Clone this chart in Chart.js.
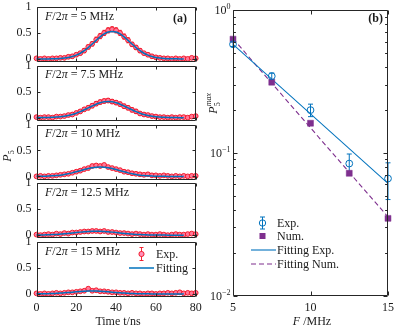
<!DOCTYPE html>
<html><head><meta charset="utf-8">
<script src="https://cdn.jsdelivr.net/npm/chart.js@4.4.1/dist/chart.umd.min.js"></script>
<style>
html,body{margin:0;padding:0;background:#fff;}
#wrap{position:relative;width:399px;height:327px;overflow:hidden;background:#fff;}
canvas{position:absolute;left:0;top:0;}
</style></head><body><div id="wrap">
<canvas id="a0" width="399" height="327"></canvas>
<canvas id="a1" width="399" height="327"></canvas>
<canvas id="a2" width="399" height="327"></canvas>
<canvas id="a3" width="399" height="327"></canvas>
<canvas id="a4" width="399" height="327"></canvas>
<canvas id="b0" width="399" height="327"></canvas>
</div>
<script>
// ---------- data: panel (a) ----------
const timeExp = [0,2,4,6,8,10,12,14,16,18,20,22,24,26,28,30,32,34,36,38,40,42,44,46,48,50,52,54,56,58,60,62,64,66,68,70,72,74,76,78,80];
const timeFit = [0,2,4,6,8,10,12,14,16,18,20,22,24,26,28,30,32,34,36,38,40,42,44,46,48,50,52,54,56,58,60,62,64,66,68,70,72,74];
const panelFreqs = ['5','7.5','10','12.5','15'];

const expP1 = [0.01,0.00,0.01,0.00,0.01,0.01,0.02,0.02,0.04,0.05,0.08,0.11,0.16,0.23,0.29,0.37,0.44,0.50,0.55,0.57,0.55,0.50,0.43,0.36,0.28,0.22,0.16,0.11,0.08,0.05,0.03,0.02,0.01,0.01,0.00,0.01,0.00,0.01,0.00,0.02,0.01];
const errP1 = [0.02,0.02,0.02,0.02,0.02,0.02,0.02,0.02,0.03,0.03,0.03,0.03,0.04,0.04,0.04,0.05,0.05,0.05,0.05,0.05,0.05,0.05,0.05,0.05,0.04,0.04,0.04,0.03,0.03,0.03,0.03,0.02,0.02,0.02,0.02,0.02,0.02,0.02,0.02,0.02,0.02];
const fitP1 = [0,0,0,0,0.002,0.004,0.008,0.015,0.027,0.045,0.072,0.109,0.158,0.218,0.286,0.357,0.425,0.480,0.517,0.530,0.517,0.480,0.425,0.357,0.286,0.218,0.158,0.109,0.072,0.045,0.027,0.015,0.008,0.004,0.002,0.001,0,0];

const expP2 = [0.01,0.00,0.01,0.01,0.00,0.02,0.02,0.03,0.05,0.06,0.09,0.12,0.16,0.19,0.23,0.27,0.30,0.32,0.33,0.31,0.29,0.26,0.22,0.19,0.15,0.12,0.08,0.06,0.05,0.03,0.02,0.01,0.01,0.00,0.01,0.00,0.01,0.01,0.00,0.02,0.03];
const errP2 = [0.02,0.02,0.02,0.02,0.02,0.02,0.02,0.02,0.03,0.03,0.03,0.03,0.03,0.04,0.04,0.04,0.04,0.04,0.04,0.04,0.04,0.04,0.04,0.04,0.04,0.04,0.03,0.03,0.03,0.03,0.03,0.02,0.02,0.02,0.02,0.02,0.02,0.02,0.02,0.02,0.02];
const fitP2 = [0,0.001,0.002,0.003,0.006,0.011,0.017,0.028,0.042,0.061,0.086,0.116,0.151,0.188,0.225,0.259,0.286,0.304,0.310,0.304,0.286,0.259,0.225,0.188,0.151,0.116,0.086,0.061,0.042,0.028,0.017,0.011,0.006,0.003,0.002,0.001,0,0];

const expP3 = [0.00,0.01,0.00,0.01,0.01,0.02,0.03,0.04,0.05,0.07,0.09,0.11,0.14,0.16,0.20,0.21,0.20,0.22,0.18,0.16,0.14,0.12,0.09,0.08,0.06,0.05,0.04,0.03,0.04,0.02,0.02,0.01,0.02,0.01,0.00,0.01,0.00,0.01,0.00,0.01,0.01];
const errP3 = [0.02,0.02,0.02,0.02,0.02,0.02,0.02,0.02,0.02,0.02,0.03,0.03,0.03,0.03,0.03,0.03,0.03,0.03,0.03,0.03,0.03,0.03,0.03,0.03,0.03,0.03,0.03,0.03,0.03,0.03,0.02,0.02,0.02,0.02,0.02,0.02,0.02,0.02,0.02,0.02,0.02];
const fitP3 = [0.001,0.002,0.004,0.006,0.010,0.016,0.024,0.036,0.050,0.068,0.088,0.109,0.131,0.150,0.166,0.176,0.180,0.176,0.166,0.150,0.131,0.109,0.088,0.068,0.050,0.036,0.024,0.016,0.010,0.006,0.004,0.002,0.001,0,0,0,0,0];

const expP4 = [0.01,0.00,0.01,0.02,0.01,0.03,0.02,0.04,0.03,0.05,0.05,0.06,0.07,0.07,0.08,0.08,0.07,0.08,0.06,0.06,0.05,0.04,0.04,0.03,0.02,0.03,0.02,0.01,0.02,0.01,0.01,0.02,0.01,0.00,0.01,0.02,0.01,0.01,0.02,0.03,0.02];
const errP4 = [0.02,0.02,0.02,0.02,0.02,0.02,0.02,0.02,0.02,0.02,0.02,0.02,0.02,0.02,0.02,0.02,0.02,0.02,0.02,0.02,0.02,0.02,0.02,0.02,0.02,0.02,0.02,0.02,0.02,0.02,0.02,0.02,0.02,0.02,0.02,0.02,0.02,0.02,0.02,0.02,0.02];
const fitP4 = [0.002,0.003,0.005,0.007,0.010,0.014,0.020,0.026,0.033,0.041,0.050,0.058,0.065,0.070,0.074,0.075,0.074,0.070,0.065,0.058,0.050,0.041,0.033,0.026,0.020,0.014,0.010,0.007,0.005,0.003,0.002,0.001,0.001,0,0,0,0,0];

const expP5 = [0.01,0.00,0.01,0.00,0.01,0.02,0.01,0.02,0.03,0.03,0.04,0.05,0.06,0.10,0.06,0.07,0.05,0.05,0.04,0.03,0.03,0.02,0.02,0.01,0.02,0.01,0.01,0.00,0.01,0.01,0.00,0.01,0.01,0.02,0.01,0.02,0.03,0.01,0.02,0.01,0.02];
const errP5 = [0.02,0.02,0.02,0.02,0.02,0.02,0.02,0.02,0.02,0.02,0.02,0.02,0.02,0.02,0.02,0.02,0.02,0.02,0.02,0.02,0.02,0.02,0.02,0.02,0.02,0.02,0.02,0.02,0.02,0.02,0.02,0.02,0.02,0.02,0.02,0.02,0.02,0.02,0.02,0.02,0.02];
const fitP5 = [0.001,0.002,0.003,0.005,0.007,0.011,0.015,0.021,0.027,0.033,0.040,0.046,0.051,0.054,0.055,0.054,0.051,0.046,0.040,0.033,0.027,0.021,0.015,0.011,0.007,0.005,0.003,0.002,0.001,0,0,0,0,0,0,0,0,0];

const xTicksA = [0,20,40,60,80];
const yTicksA = [0,0.5,1];
const yTickLabelsA = ['0','0.5','1'];

// ---------- data: panel (b) ----------
const freqB = [5,7.5,10,12.5,15];
const pmaxExp = [0.575,0.344,0.199,0.084,0.066];
const pmaxExpErr = [0.02,0.018,0.02,0.014,0.019];
const pmaxNum = [0.625,0.312,0.161,0.0718,0.0347];
const fitFreqB = [5,15];
const fitExpB = [0.575,0.061];
const fitNumB = [0.63,0.0355];
const xTicksB = [5,10,15];
const yTicksB = [0.01,0.1,1];
const yTickExpB = ['\u22122','\u22121','0'];

// ---------- helpers ----------
const SERIF = '"Liberation Serif","Times New Roman",serif';
const R = s => `${s}px ${SERIF}`, I = s => `italic ${s}px ${SERIF}`, BD = s => `bold ${s}px ${SERIF}`;
const TXT = '#1a1a1a';
const BLUE = '#0072BD', PURPLE = '#7E2F8E', RED = '#f01020', PINK = '#ff7898';

function drawSegs(ctx, x, y, segs, align, rot){
  ctx.save(); ctx.translate(x, y); if (rot) ctx.rotate(rot);
  let w = 0;
  segs.forEach(s => { ctx.font = s.f; s.w = ctx.measureText(s.t).width; if (!s.na) w += s.w; });
  let cx = align === 'center' ? -w/2 : align === 'right' ? -w : 0;
  ctx.textAlign = 'left'; ctx.textBaseline = 'alphabetic';
  segs.forEach(s => { ctx.font = s.f; ctx.fillStyle = s.c || TXT; ctx.fillText(s.t, cx, s.dy || 0); if (!s.na) cx += s.w; });
  ctx.restore();
}

const errPlugin = {id:'errbars', beforeDatasetsDraw(chart){
  const ctx = chart.ctx, xs = chart.scales.x, ys = chart.scales.y;
  chart.data.datasets.forEach(ds => {
    if (!ds.errors) return;
    ctx.save(); ctx.strokeStyle = ds.errColor; ctx.lineWidth = ds.errWidth; ctx.beginPath();
    ds.data.forEach((p, j) => {
      const e = ds.errors[j], c = ds.errCap;
      const px = xs.getPixelForValue(p.x), y1 = ys.getPixelForValue(p.y - e), y2 = ys.getPixelForValue(p.y + e);
      ctx.moveTo(px, y1); ctx.lineTo(px, y2);
      if (c) { ctx.moveTo(px-c, y1); ctx.lineTo(px+c, y1); ctx.moveTo(px-c, y2); ctx.lineTo(px+c, y2); }
    });
    ctx.stroke(); ctx.restore();
  });
}};

function framePlugin(cfg){
  return {id:'frame', afterDatasetsDraw(chart){
    const ctx = chart.ctx, a = chart.chartArea, xs = chart.scales.x, ys = chart.scales.y;
    const L = Math.round(a.left) + 0.5, Rt = Math.round(a.right) - 0.5, T = Math.round(a.top) + 0.5, Bm = Math.round(a.bottom) - 0.5;
    ctx.save(); ctx.strokeStyle = '#262626'; ctx.lineWidth = 1; ctx.beginPath();
    ctx.rect(L, T, Rt - L, Bm - T);
    cfg.xTicks.forEach(v => { const p = Math.round(xs.getPixelForValue(v)) + 0.5; ctx.moveTo(p, Bm); ctx.lineTo(p, Bm - cfg.len); ctx.moveTo(p, T); ctx.lineTo(p, T + cfg.len); });
    cfg.yTicks.forEach(v => { const p = Math.round(ys.getPixelForValue(v)) + 0.5; ctx.moveTo(L, p); ctx.lineTo(L + cfg.len, p); ctx.moveTo(Rt, p); ctx.lineTo(Rt - cfg.len, p); });
    (cfg.yMinor || []).forEach(v => { const p = Math.round(ys.getPixelForValue(v)) + 0.5; ctx.moveTo(L, p); ctx.lineTo(L + cfg.len*0.6, p); ctx.moveTo(Rt, p); ctx.lineTo(Rt - cfg.len*0.6, p); });
    ctx.stroke(); ctx.restore();
    if (cfg.after) cfg.after(chart, ctx);
  }};
}

Chart.defaults.font.family = SERIF;
Chart.defaults.color = TXT;

// ---------- panel (a) charts ----------
const expSets = [expP1, expP2, expP3, expP4, expP5];
const errSets = [errP1, errP2, errP3, errP4, errP5];
const fitSets = [fitP1, fitP2, fitP3, fitP4, fitP5];
const AX_L = 36.5, AX_R = 195.7, P_H = 55, P_STEP = 58.75, P_TOP0 = 7;

for (let i = 0; i < 5; i++) {
  const top = P_TOP0 + P_STEP * i, bottom = top + P_H;
  const isLast = i === 4;
  new Chart(document.getElementById('a' + i), {
    type: 'scatter',
    data: { datasets: [
      { type:'line', data: timeFit.map((t, k) => ({x:t, y:fitSets[i][k]})), borderColor: BLUE, borderWidth: 1.5,
        pointRadius: 0, fill: false, cubicInterpolationMode: 'monotone', clip: 3 },
      { data: timeExp.map((t, k) => ({x:t, y:expSets[i][k]})), pointStyle:'circle', pointRadius: 2.4,
        borderColor: RED, backgroundColor: PINK, borderWidth: 0.9, clip: 6,
        errors: errSets[i], errColor: RED, errWidth: 0.9, errCap: 1.6 }
    ]},
    options: {
      responsive: false, animation: false, events: [],
      layout: { padding: { top: top, left: 0, right: 399 - AX_R, bottom: 0 } },
      plugins: { legend: {display:false}, tooltip: {enabled:false} },
      scales: {
        x: { type:'linear', min:0, max:80, grid:{display:false, drawTicks:false}, border:{display:false},
             ticks:{display:isLast, autoSkip:false, maxRotation:0, padding:4, font:{size:12, family:SERIF}, color:TXT, callback:v => String(v)},
             afterBuildTicks: s => { s.ticks = xTicksA.map(v => ({value:v})); },
             afterFit: s => { s.height = 327 - bottom; } },
        y: { type:'linear', min:-0.06, max:1, grid:{display:false, drawTicks:false}, border:{display:false},
             ticks:{display:false},
             afterBuildTicks: s => { s.ticks = yTicksA.map(v => ({value:v})); },
             afterFit: s => { s.width = AX_L; } }
      }
    },
    plugins: [errPlugin, framePlugin({xTicks:xTicksA, yTicks:yTicksA, len:3, after:(chart, ctx) => {
      const a = chart.chartArea, ys = chart.scales.y;
      yTicksA.forEach((v, k) => {
        ctx.save(); ctx.font = R(12); ctx.fillStyle = TXT; ctx.textAlign = 'right'; ctx.textBaseline = 'middle';
        ctx.fillText(yTickLabelsA[k], 31.5, ys.getPixelForValue(v)); ctx.restore();
      });
      drawSegs(ctx, 45, a.top + 12.5, [{t:'F', f:I(12)}, {t:'/2', f:R(12)}, {t:'\u03c0', f:I(12)}, {t:' = ' + panelFreqs[i] + ' MHz', f:R(12)}], 'left');
      if (i === 0) drawSegs(ctx, 187, a.top + 15, [{t:'(a)', f:BD(12)}], 'right');
      if (i === 2) drawSegs(ctx, 11, 156, [{t:'P', f:I(12)}, {t:'5', f:R(8), dy:3}], 'center', -Math.PI/2);
      if (isLast) {
        ctx.save();
        ctx.strokeStyle = RED; ctx.lineWidth = 0.9; ctx.beginPath();
        ctx.moveTo(141.5, 247.5); ctx.lineTo(141.5, 260.5);
        ctx.moveTo(139.5, 247.5); ctx.lineTo(143.5, 247.5); ctx.moveTo(139.5, 260.5); ctx.lineTo(143.5, 260.5);
        ctx.stroke();
        ctx.beginPath(); ctx.arc(141.5, 254, 2.6, 0, Math.PI*2); ctx.fillStyle = '#ff90b8'; ctx.fill(); ctx.stroke();
        ctx.strokeStyle = BLUE; ctx.lineWidth = 1.5; ctx.beginPath(); ctx.moveTo(129, 268); ctx.lineTo(154, 268); ctx.stroke();
        ctx.restore();
        drawSegs(ctx, 156, 258, [{t:'Exp.', f:R(12)}], 'left');
        drawSegs(ctx, 156, 272, [{t:'Fitting', f:R(12)}], 'left');
        drawSegs(ctx, 118, 325, [{t:'Time t/ns', f:R(12)}], 'center');
      }
    }})]
  });
}

// ---------- panel (b) chart ----------
const B_L = 233, B_R = 391, B_T = 10, B_B = 295.5;
const yMinorB = [0.02,0.03,0.04,0.05,0.06,0.07,0.08,0.09,0.2,0.3,0.4,0.5,0.6,0.7,0.8,0.9];
new Chart(document.getElementById('b0'), {
  type: 'scatter',
  data: { datasets: [
    { data: freqB.map((f, k) => ({x:f, y:pmaxExp[k]})), pointStyle:'circle', pointRadius:3.4, borderColor:BLUE,
      backgroundColor:'rgba(0,0,0,0)', borderWidth:1, clip:8, errors: pmaxExpErr, errColor: BLUE, errWidth: 1, errCap: 2.5 },
    { data: freqB.map((f, k) => ({x:f, y:pmaxNum[k]})), pointStyle:'rect', pointRadius:4.2, borderColor:PURPLE,
      backgroundColor:PURPLE, borderWidth:0.5, clip:8 },
    { type:'line', data: fitFreqB.map((f, k) => ({x:f, y:fitExpB[k]})), borderColor:BLUE, borderWidth:1.1, pointRadius:0, fill:false },
    { type:'line', data: fitFreqB.map((f, k) => ({x:f, y:fitNumB[k]})), borderColor:PURPLE, borderWidth:1.1, borderDash:[5,3], pointRadius:0, fill:false }
  ]},
  options: {
    responsive:false, animation:false, events: [],
    layout: { padding: { top: B_T, left: 0, right: 399 - B_R, bottom: 0 } },
    plugins: { legend:{display:false}, tooltip:{enabled:false} },
    scales: {
      x: { type:'linear', min:5, max:15, grid:{display:false, drawTicks:false}, border:{display:false},
           ticks:{autoSkip:false, maxRotation:0, padding:5, font:{size:12, family:SERIF}, color:TXT, callback:v => String(v)},
           afterBuildTicks: s => { s.ticks = xTicksB.map(v => ({value:v})); },
           afterFit: s => { s.height = 327 - B_B; } },
      y: { type:'logarithmic', min:0.01, max:1, grid:{display:false, drawTicks:false}, border:{display:false},
           ticks:{display:false},
           afterBuildTicks: s => { s.ticks = yTicksB.map(v => ({value:v})); },
           afterFit: s => { s.width = B_L; } }
    }
  },
  plugins: [errPlugin, framePlugin({xTicks:xTicksB, yTicks:yTicksB, yMinor:yMinorB, len:4, after:(chart, ctx) => {
    const ys = chart.scales.y;
    yTicksB.forEach((v, k) => {
      const py = ys.getPixelForValue(v);
      drawSegs(ctx, 230.5, py + 4, [{t:'10', f:R(12)}, {t:yTickExpB[k], f:R(8), dy:-5}], 'right');
    });
    drawSegs(ctx, 383, 21.5, [{t:'(b)', f:BD(12)}], 'right');
    drawSegs(ctx, 217, 108, [{t:'P', f:I(12)}, {t:'max', f:I(8), dy:-6, na:true}, {t:'5', f:R(8), dy:3}], 'center', -Math.PI/2);
    drawSegs(ctx, 312, 325, [{t:'F', f:I(12)}, {t:' /MHz', f:R(12)}], 'center');
    ctx.save();
    ctx.strokeStyle = BLUE; ctx.lineWidth = 1; ctx.beginPath();
    ctx.moveTo(262.5, 217); ctx.lineTo(262.5, 229);
    ctx.moveTo(260, 217); ctx.lineTo(265, 217); ctx.moveTo(260, 229); ctx.lineTo(265, 229);
    ctx.stroke();
    ctx.beginPath(); ctx.arc(262.5, 223, 3.2, 0, Math.PI*2); ctx.stroke();
    ctx.fillStyle = PURPLE; ctx.fillRect(259.5, 233, 6, 6);
    ctx.lineWidth = 1.1; ctx.beginPath(); ctx.moveTo(251, 250); ctx.lineTo(276, 250); ctx.stroke();
    ctx.strokeStyle = PURPLE; ctx.setLineDash([5,3]); ctx.beginPath(); ctx.moveTo(251, 264); ctx.lineTo(276, 264); ctx.stroke();
    ctx.restore();
    drawSegs(ctx, 277, 227, [{t:'Exp.', f:R(12)}], 'left');
    drawSegs(ctx, 277, 240, [{t:'Num.', f:R(12)}], 'left');
    drawSegs(ctx, 277, 254, [{t:'Fitting Exp.', f:R(12)}], 'left');
    drawSegs(ctx, 277, 268, [{t:'Fitting Num.', f:R(12)}], 'left');
  }})]
});
</script></body></html>
